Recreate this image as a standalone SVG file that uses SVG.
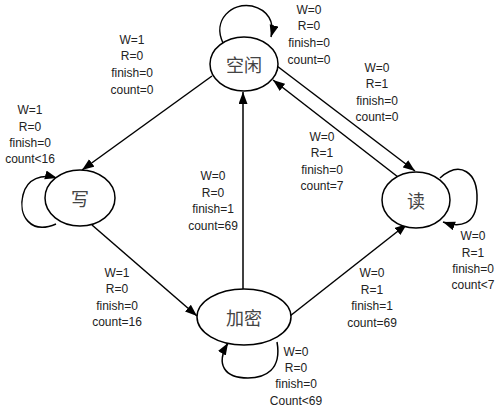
<svg xmlns="http://www.w3.org/2000/svg" width="500" height="410" viewBox="0 0 500 410">
<style>
.node ellipse{fill:#fff;stroke:#000;stroke-width:1.5}
.node text{font-family:"Noto Sans CJK SC",sans-serif;font-size:18px;fill:#444;text-anchor:middle;dominant-baseline:central}
.edge{fill:none;stroke:#000;stroke-width:1.5;marker-end:url(#arr)}
.lbl{font-family:"Liberation Sans",Arial,sans-serif;font-size:12px;fill:#222;text-anchor:middle;dominant-baseline:central}
</style>
<defs>
<marker id="arr" markerUnits="userSpaceOnUse" markerWidth="13" markerHeight="10" refX="12" refY="4.5" orient="auto">
<path d="M0,0 L12,4.5 L0,9 z" fill="#000"/>
</marker>
</defs>
<rect width="500" height="410" fill="#fff"/>
<g id="connectors">
<path class="edge" d="M223,43 C212,20 232,2 252,6 C268,10 275,22 271,37"/>
<path class="edge" d="M56,224 C30,235 18,215 23,195 C27,178 42,174 57,178"/>
<path class="edge" d="M440,178 C460,160 478,172 477,200 C476,225 460,228 443,222"/>
<path class="edge" d="M277,342 C282,370 265,378 248,378 C225,378 215,365 228,343"/>
<path class="edge" d="M212,76 L82,170"/>
<path class="edge" d="M92,225 L197,316"/>
<path class="edge" d="M243,289 L243,92"/>
<path class="edge" d="M290,316 L407,224"/>
<path class="edge" d="M277,66 L415,171"/>
<path class="edge" d="M398,177 L273,80"/>
</g>
<g id="idle" class="node"><ellipse cx="244" cy="64" rx="34" ry="27"/><text x="244" y="64">空闲</text></g>
<g id="write" class="node"><ellipse cx="80" cy="198" rx="35" ry="28"/><text x="80" y="198">写</text></g>
<g id="read" class="node"><ellipse cx="416" cy="200" rx="34" ry="28"/><text x="416" y="200">读</text></g>
<g id="encrypt" class="node"><ellipse cx="244" cy="317" rx="47" ry="28"/><text x="244" y="317">加密</text></g>
<g id="labels" class="lbl">
<text x="309" y="10">W=0</text><text x="309" y="26">R=0</text><text x="309" y="43">finish=0</text><text x="309" y="60">count=0</text>
<text x="132" y="40">W=1</text><text x="132" y="56">R=0</text><text x="132" y="73">finish=0</text><text x="132" y="90">count=0</text>
<text x="30" y="110">W=1</text><text x="30" y="127">R=0</text><text x="30" y="143">finish=0</text><text x="30" y="159">count&lt;16</text>
<text x="377" y="68">W=0</text><text x="377" y="84">R=1</text><text x="377" y="101">finish=0</text><text x="377" y="117">count=0</text>
<text x="322" y="137">W=0</text><text x="322" y="153">R=1</text><text x="322" y="170">finish=0</text><text x="322" y="186">count=7</text>
<text x="213" y="176">W=0</text><text x="213" y="193">R=0</text><text x="213" y="209">finish=1</text><text x="213" y="226">count=69</text>
<text x="473" y="236">W=0</text><text x="473" y="253">R=1</text><text x="473" y="269">finish=0</text><text x="473" y="285">count&lt;7</text>
<text x="117" y="273">W=1</text><text x="117" y="289">R=0</text><text x="117" y="306">finish=0</text><text x="117" y="322">count=16</text>
<text x="372" y="273">W=0</text><text x="372" y="290">R=1</text><text x="372" y="306">finish=1</text><text x="372" y="323">count=69</text>
<text x="296" y="352">W=0</text><text x="296" y="368">R=0</text><text x="296" y="384">finish=0</text><text x="296" y="401">Count&lt;69</text>
</g>
</svg>
